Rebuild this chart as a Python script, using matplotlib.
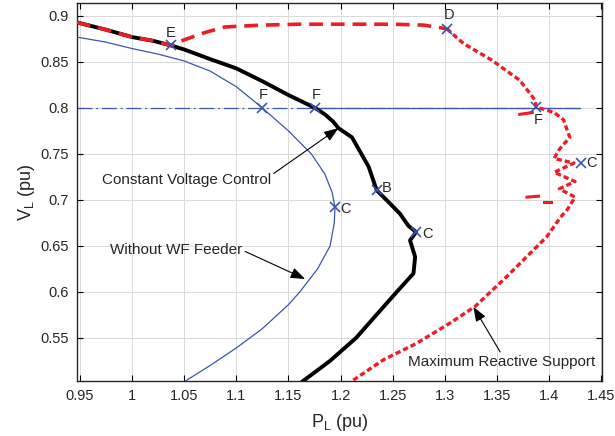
import numpy as np
import matplotlib.pyplot as plt

plt.rcParams['font.family'] = ['Liberation Sans', 'DejaVu Sans']

# Constant voltage control (black)
cvc_p = [0.947, 0.975, 1.0, 1.02, 1.037, 1.05, 1.075, 1.1, 1.125, 1.15, 1.1755,
         1.185, 1.193, 1.198, 1.211, 1.220, 1.227, 1.2347, 1.2475, 1.257, 1.265,
         1.2725, 1.2667, 1.2716, 1.270, 1.262, 1.254, 1.236, 1.215, 1.19, 1.164]
cvc_v = [0.893, 0.885, 0.877, 0.873, 0.868, 0.8635, 0.853, 0.843, 0.829, 0.814, 0.800,
         0.793, 0.785, 0.778, 0.768, 0.750, 0.736, 0.7105, 0.696, 0.685, 0.672,
         0.665, 0.656, 0.638, 0.620, 0.610, 0.600, 0.577, 0.550, 0.525, 0.503]

# Without WF feeder (blue)
nowf_p = [0.947, 0.975, 1.0, 1.025, 1.05, 1.075, 1.1, 1.125, 1.15, 1.172, 1.185,
          1.192, 1.1947, 1.194, 1.19, 1.178, 1.161, 1.15, 1.125, 1.1, 1.075, 1.051]
nowf_v = [0.877, 0.8715, 0.8645, 0.8585, 0.851, 0.840, 0.823, 0.800, 0.775, 0.750, 0.728,
          0.708, 0.692, 0.675, 0.650, 0.625, 0.600, 0.586, 0.560, 0.539, 0.520, 0.503]

# Maximum reactive support (red), upper dashed part
mrs_top_p = [0.947, 0.975, 1.0, 1.02, 1.037, 1.05, 1.07, 1.089, 1.124, 1.16, 1.2, 1.25, 1.28, 1.302]
mrs_top_v = [0.893, 0.885, 0.877, 0.873, 0.868, 0.874, 0.882, 0.888, 0.890, 0.891, 0.891, 0.891, 0.890, 0.886]

# Maximum reactive support (red), lower part
mrs_low_p = [1.302, 1.318, 1.345, 1.372, 1.387, 1.3876, 1.405, 1.414, 1.420, 1.410,
             1.405, 1.424, 1.405, 1.425, 1.410, 1.425, 1.418, 1.411, 1.398, 1.382,
             1.359, 1.329, 1.305, 1.273, 1.241, 1.211]
mrs_low_v = [0.886, 0.870, 0.852, 0.830, 0.808, 0.801, 0.795, 0.787, 0.768, 0.755,
             0.745, 0.740, 0.730, 0.720, 0.712, 0.703, 0.690, 0.681, 0.660, 0.642,
             0.616, 0.584, 0.566, 0.544, 0.526, 0.503]

# short stray segments of the red trajectory
spur1_p, spur1_v = [1.372, 1.384], [0.793, 0.795]
spur2_p, spur2_v = [1.379, 1.390], [0.703, 0.704]
spur3_p, spur3_v = [1.395, 1.402], [0.698, 0.698]

# operating points
pts_p = [1.037, 1.302, 1.125, 1.1755, 1.3876, 1.1947, 1.2347, 1.2725, 1.4305]
pts_v = [0.868, 0.886, 0.800, 0.800, 0.801, 0.692, 0.7105, 0.665, 0.7406]

fig = plt.figure(figsize=(6.15, 4.36), dpi=100)
ax = fig.add_axes([0.125, 0.126, 0.854, 0.867])

blue = '#3a55b4'
red = '#ee1c25'
txt = '#262626'

ax.plot(nowf_p, nowf_v, color=blue, lw=0.9, zorder=3)
ax.plot(cvc_p, cvc_v, color='black', lw=2.8, zorder=4)
ax.plot(mrs_top_p, mrs_top_v, color=red, lw=2.6, dashes=(3.8, 2.2), zorder=5)
ax.plot(mrs_low_p, mrs_low_v, color=red, lw=2.4, dashes=(1.6, 0.9), zorder=5)
for sp, sv in [(spur1_p, spur1_v), (spur2_p, spur2_v), (spur3_p, spur3_v)]:
    ax.plot(sp, sv, color=red, lw=2.2, zorder=5)

# 0.8 pu voltage limit
ax.plot([0.947, 1.43], [0.8, 0.8], color=blue, lw=0.9, dashes=(12, 3, 1.5, 3), zorder=2)
ax.plot([1.1755, 1.43], [0.8, 0.8], color=blue, lw=0.9, zorder=2)

ax.plot(pts_p, pts_v, ls='none', marker='x', color=blue, ms=7, mew=1.2, zorder=6)

lab = dict(color=txt, fontsize=10.5)
ax.text(1.037, 0.874, 'E', ha='center', va='bottom', **lab)
ax.text(1.304, 0.893, 'D', ha='center', va='bottom', **lab)
ax.text(1.126, 0.806, 'F', ha='center', va='bottom', **lab)
ax.text(1.1765, 0.806, 'F', ha='center', va='bottom', **lab)
ax.text(1.390, 0.794, 'F', ha='center', va='top', **lab)
ax.text(1.200, 0.690, 'C', ha='left', va='center', **lab)
ax.text(1.240, 0.713, 'B', ha='left', va='center', **lab)
ax.text(1.278, 0.663, 'C', ha='left', va='center', **lab)
ax.text(1.436, 0.740, 'C', ha='left', va='center', **lab)

arrow = dict(arrowstyle='-|>,head_length=0.8,head_width=0.3', color='black', lw=0.8,
             shrinkA=0, shrinkB=0)
ax.annotate('Constant Voltage Control', xy=(1.198, 0.778), xytext=(1.052, 0.722),
            ha='center', va='center', fontsize=11, color=txt,
            arrowprops=dict(**arrow, relpos=(1.0, 0.8)))
ax.annotate('Without WF Feeder', xy=(1.166, 0.614), xytext=(1.0424, 0.6453),
            ha='center', va='center', fontsize=11, color=txt,
            arrowprops=dict(**arrow, relpos=(1.0, 0.5)))
ax.annotate('Maximum Reactive Support', xy=(1.3275, 0.5837), xytext=(1.3548, 0.524),
            ha='center', va='center', fontsize=11, color=txt,
            arrowprops=dict(**arrow, relpos=(0.5, 1.0)))

ax.set_xlim(0.947, 1.451)
ax.set_ylim(0.503, 0.914)
xt = [0.95, 1.0, 1.05, 1.1, 1.15, 1.2, 1.25, 1.3, 1.35, 1.4, 1.45]
yt = [0.55, 0.6, 0.65, 0.7, 0.75, 0.8, 0.85, 0.9]
ax.set_xticks(xt)
ax.set_xticklabels(['0.95', '1', '1.05', '1.1', '1.15', '1.2', '1.25', '1.3', '1.35', '1.4', '1.45'])
ax.set_yticks(yt)
ax.set_yticklabels(['0.55', '0.6', '0.65', '0.7', '0.75', '0.8', '0.85', '0.9'])
ax.tick_params(direction='in', top=True, right=True, length=4, width=0.8,
               labelsize=10.5, labelcolor=txt, pad=6)
ax.grid(True, color='#d9d9d9', lw=0.7)
ax.set_axisbelow(True)
for s in ax.spines.values():
    s.set_linewidth(1.0)
    s.set_color('#262626')

ax.set_xlabel('P$_\\mathregular{L}$ (pu)', fontsize=13, color=txt, labelpad=6)
ax.set_ylabel('V$_\\mathregular{L}$ (pu)', fontsize=13, color=txt, labelpad=2)

fig.savefig('out.png', dpi=100)
